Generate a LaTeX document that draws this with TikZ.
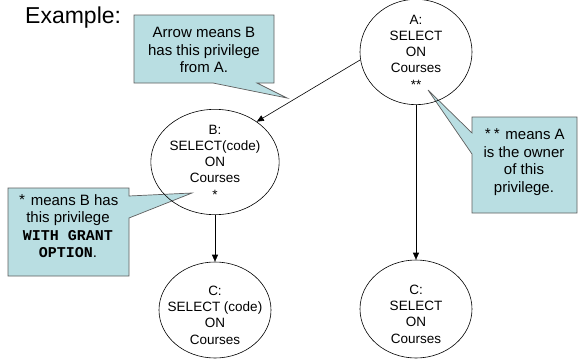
\documentclass[tikz,border=0pt]{standalone}
\usepackage{fontspec}
\setmainfont{Liberation Sans}
\newfontfamily\monofam{Liberation Mono}
\usetikzlibrary{arrows.meta,shapes.geometric}
\definecolor{callfill}{RGB}{185,222,226}
\definecolor{callline}{RGB}{95,95,95}
\begin{document}
\begin{tikzpicture}[x=1pt,y=-1pt,
  privfont/.style={align=center,font=\fontsize{13.5}{16.3}\selectfont},
  priv/.style={draw=black,line width=0.6pt,ellipse,inner sep=0pt,privfont},
  arr/.style={draw=black,line width=0.6pt,-{Triangle[length=7pt,width=6pt]}},
  callbox/.style={fill=callfill,draw=callline,line width=0.7pt,line join=miter},
  calltext/.style={align=center,inner sep=0pt,font=\fontsize{15}{17.5}\selectfont}]
\useasboundingbox (0,0) rectangle (578,359);
\fill[white] (0,0) rectangle (578,359);

\node[anchor=base west,inner sep=0pt,font=\fontsize{23}{26}\selectfont] (ex) at (25,23) {Example:};

% callout shapes
\path[callbox] (134,15) -- (274,15) -- (274,83) -- (257,83) -- (287,98) -- (213,83) -- (134,83) -- cycle;
\path[callbox] (8,188) -- (129,188) -- (129,196) -- (192,193) -- (129,218) -- (129,276) -- (8,276) -- cycle;
\path[callbox] (472,117) -- (577,117) -- (577,213) -- (472,213) -- (472,154) -- (428,90) -- (472,133) -- cycle;

\node[calltext] (t1) at (204,50) {Arrow means B\\has this privilege\\from A.};
\node[calltext] (t2) at (68,226) {{\monofam*} means B has\\this privilege\\{\monofam\bfseries WITH GRANT}\\{\monofam\bfseries OPTION}.};
\node[calltext] (t3) at (524,162) {{\monofam**} means A\\is the owner\\of this\\privilege.};

% privilege nodes
\node[priv,minimum width=112pt,minimum height=100pt] (A) at (416,52) {A:\\SELECT\\ON\\Courses\\**};
\node[priv,minimum width=116pt,minimum height=96pt] (B) at (215,162) {B:\\SELECT(code)\\ON\\Courses\\*};
\node[priv,minimum width=112pt,minimum height=96pt,
  label={[privfont,inner sep=0pt,yshift=-5pt]center:{C:\\SELECT (code)\\ON\\Courses}}] (C1) at (215,310) {};
\node[priv,minimum width=112pt,minimum height=98pt,
  label={[privfont,inner sep=0pt,yshift=-5pt]center:{C:\\SELECT\\ON\\Courses}}] (C2) at (416,309) {};

\draw[arr] (A.188) -- (B.44);
\draw[arr] (B.south) -- (C1.north);
\draw[arr] (A.south) -- (C2.north);
\end{tikzpicture}
\end{document}
